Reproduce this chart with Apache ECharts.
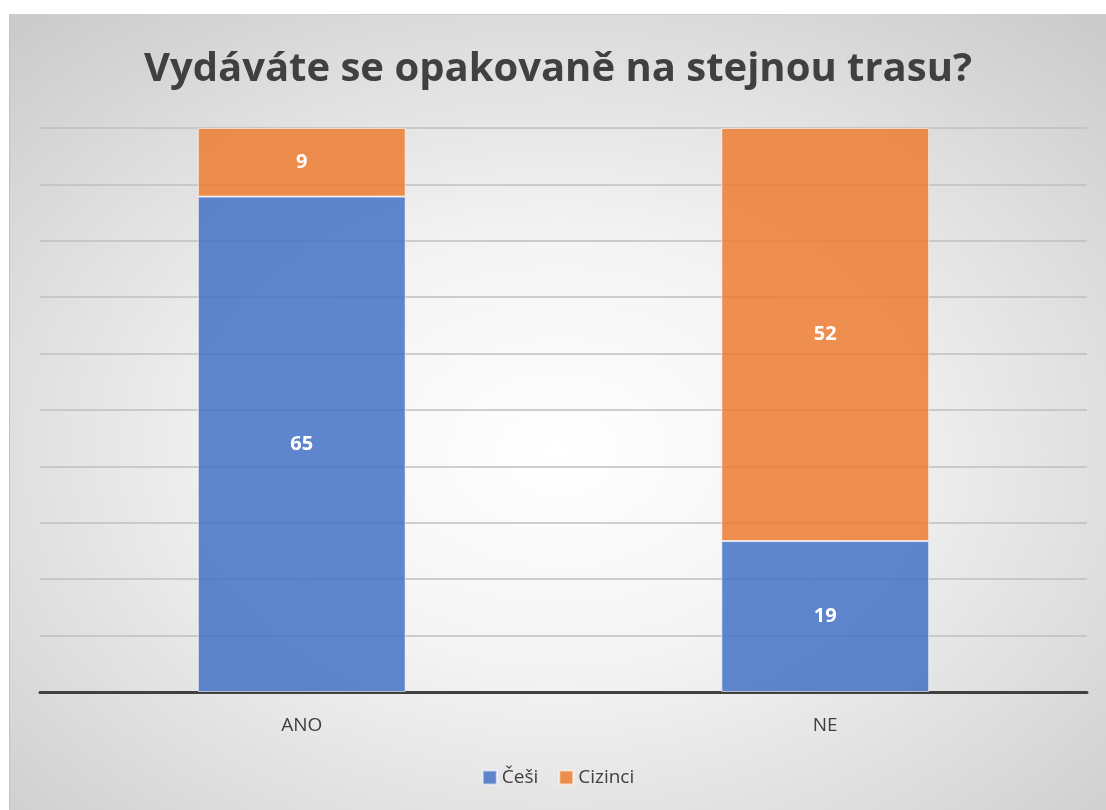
<!DOCTYPE html>
<html>
<head>
<meta charset="utf-8">
<script src="https://cdn.jsdelivr.net/npm/echarts@6/dist/echarts.min.js"></script>
<style>
  html, body { margin: 0; padding: 0; background: #ffffff; }
  #chart {
    position: absolute; left: 9px; top: 14px; width: 1097px; height: 796px;
    background: radial-gradient(ellipse 75% 75% at 50% 55%, #ffffff 0%, #f4f4f4 35%, #dadada 75%, #c9c9c9 100%);
    border-left: 1px solid #c4c4c4; border-top: 1px solid #d0d0d0;
    box-sizing: border-box;
  }
</style>
</head>
<body>
<div id="chart"></div>
<script>
// Odpovědi na otázku, rozdělené podle skupin respondentů
const categories = ['ANO', 'NE'];
const cesi = [65, 19];
const cizinci = [9, 52];
const seriesNames = ['Češi', 'Cizinci'];

// 100% skládaný sloupec: podíl každé skupiny v rámci odpovědi
const totals = categories.map((_, i) => cesi[i] + cizinci[i]);
const share = (arr) => arr.map((v, i) => ({ value: v / totals[i] * 100, raw: v }));

const chart = echarts.init(document.getElementById('chart'));
const labelStyle = {
  show: true, position: 'inside', color: '#ffffff', fontSize: 20, fontWeight: 'bold',
  fontFamily: 'Open Sans', formatter: (p) => p.data.raw
};
chart.setOption({
  animation: false,
  title: {
    text: 'Vydáváte se opakovaně na stejnou trasu?',
    left: 'center', top: 30,
    textStyle: { fontFamily: 'Open Sans', fontSize: 40, fontWeight: 'bold', color: '#404040' }
  },
  legend: {
    data: seriesNames, bottom: 18, left: 'center',
    itemWidth: 14, itemHeight: 14, itemGap: 20, icon: 'rect',
    textStyle: { fontFamily: 'Open Sans', fontSize: 19, color: '#404040' }
  },
  grid: { left: 30, right: 19, top: 113, bottom: 118 },
  xAxis: {
    type: 'category', data: categories,
    axisLine: { lineStyle: { color: '#404040', width: 3 } },
    axisTick: { show: false },
    axisLabel: { fontFamily: 'Open Sans', fontSize: 19, color: '#404040', margin: 24 }
  },
  yAxis: {
    type: 'value', min: 0, max: 100, interval: 10,
    axisLabel: { show: false }, axisLine: { show: false }, axisTick: { show: false },
    splitLine: { lineStyle: { color: '#bfbfbf', width: 1.5 } }
  },
  series: [
    {
      name: seriesNames[0], type: 'bar', stack: 'total', barWidth: '39.7%',
      data: share(cesi),
      itemStyle: { color: 'rgba(68,114,196,0.85)', borderColor: 'rgba(255,255,255,0.6)', borderWidth: 1 },
      label: labelStyle
    },
    {
      name: seriesNames[1], type: 'bar', stack: 'total', barWidth: '39.7%',
      data: share(cizinci),
      itemStyle: { color: 'rgba(237,125,49,0.85)', borderColor: 'rgba(255,255,255,0.6)', borderWidth: 1 },
      label: labelStyle
    }
  ],
  color: ['#4472c4', '#ed7d31']
});
</script>
</body>
</html>
